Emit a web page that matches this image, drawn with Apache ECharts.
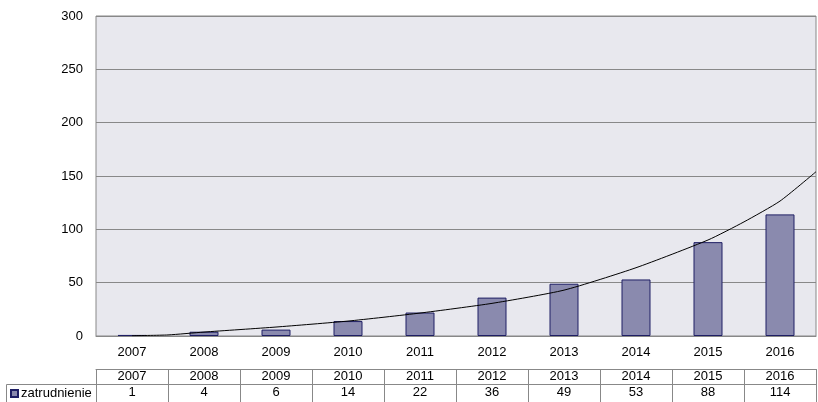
<!DOCTYPE html>
<html><head><meta charset="utf-8">
<script src="https://cdn.jsdelivr.net/npm/echarts@6/dist/echarts.min.js"></script>
<style>html,body{margin:0;padding:0;background:#fff}#c{width:818px;height:402px}</style>
</head><body><div id="c"></div>
<script>
const categories = ['2007','2008','2009','2010','2011','2012','2013','2014','2015','2016'];
const seriesName = 'zatrudnienie';
const values = [1, 4, 6, 14, 22, 36, 49, 53, 88, 114];
const yTicks = [0, 50, 100, 150, 200, 250, 300];
// trend line (x = category position, 1 = 2007)
const trendX = [1, 1.5, 2, 3, 4, 5, 6, 7, 8, 9, 9.5, 10, 10.5];
const trendY = [0.3, 1.0, 3.7, 8.4, 14, 21.5, 30.6, 43, 64, 90, 107, 126.5, 154];

const FONT = '"Liberation Sans", Arial, sans-serif';
const chart = echarts.init(document.getElementById('c'), null, {renderer:'canvas'});
const gray = '#888888';
const txt = {color:'#000', fontFamily:FONT, fontSize:13};

chart.setOption({
  animation:false,
  textStyle:{fontFamily:FONT},
  grid:{left:96, right:2, top:16, bottom:66, show:true, backgroundColor:'#E8E8EE', borderColor:gray, borderWidth:1},
  legend:{left:10, top:387, itemWidth:7, itemHeight:7, itemGap:0, icon:'rect', padding:0,
    textStyle:Object.assign({}, txt, {padding:[0,0,0,-2]}), data:[seriesName], selectedMode:false},
  xAxis:[
    {type:'category', data:categories, axisLine:{lineStyle:{color:gray}}, axisTick:{show:false},
     axisLabel:Object.assign({margin:10}, txt)},
    {type:'value', min:0.5, max:10.5, show:false},
    {type:'category', data:categories, position:'bottom', offset:33,
     axisLine:{lineStyle:{color:gray}}, axisTick:{show:true, inside:false, length:15, lineStyle:{color:gray}},
     axisLabel:Object.assign({margin:1}, txt)},
    {type:'category', data:values.map(String), position:'bottom', offset:48,
     axisLine:{lineStyle:{color:gray}}, axisTick:{show:true, inside:false, length:20, lineStyle:{color:gray}},
     axisLabel:Object.assign({margin:2}, txt)}
  ],
  yAxis:{type:'value', min:yTicks[0], max:yTicks[yTicks.length-1], interval:yTicks[1]-yTicks[0],
    axisLine:{show:false}, axisTick:{show:false},
    splitLine:{lineStyle:{color:gray, width:1}},
    axisLabel:Object.assign({margin:13}, txt)},
  series:[
    {name:seriesName, type:'bar', data:values, xAxisIndex:0, barWidth:29,
     itemStyle:{color:'#8A8AAE', borderColor:'#1E1E64', borderWidth:1}},
    {name:'trend', type:'line', xAxisIndex:1, data:trendX.map((x,i)=>[x, trendY[i]]),
     smooth:0.2, symbol:'none', lineStyle:{color:'#000', width:1}, z:5}
  ],
  graphic:[
    {type:'line', shape:{x1:6.5, y1:384.5, x2:96, y2:384.5}, style:{stroke:gray, lineWidth:1}},
    {type:'line', shape:{x1:6.5, y1:384.5, x2:6.5, y2:402}, style:{stroke:gray, lineWidth:1}}
  ]
});
</script></body></html>
